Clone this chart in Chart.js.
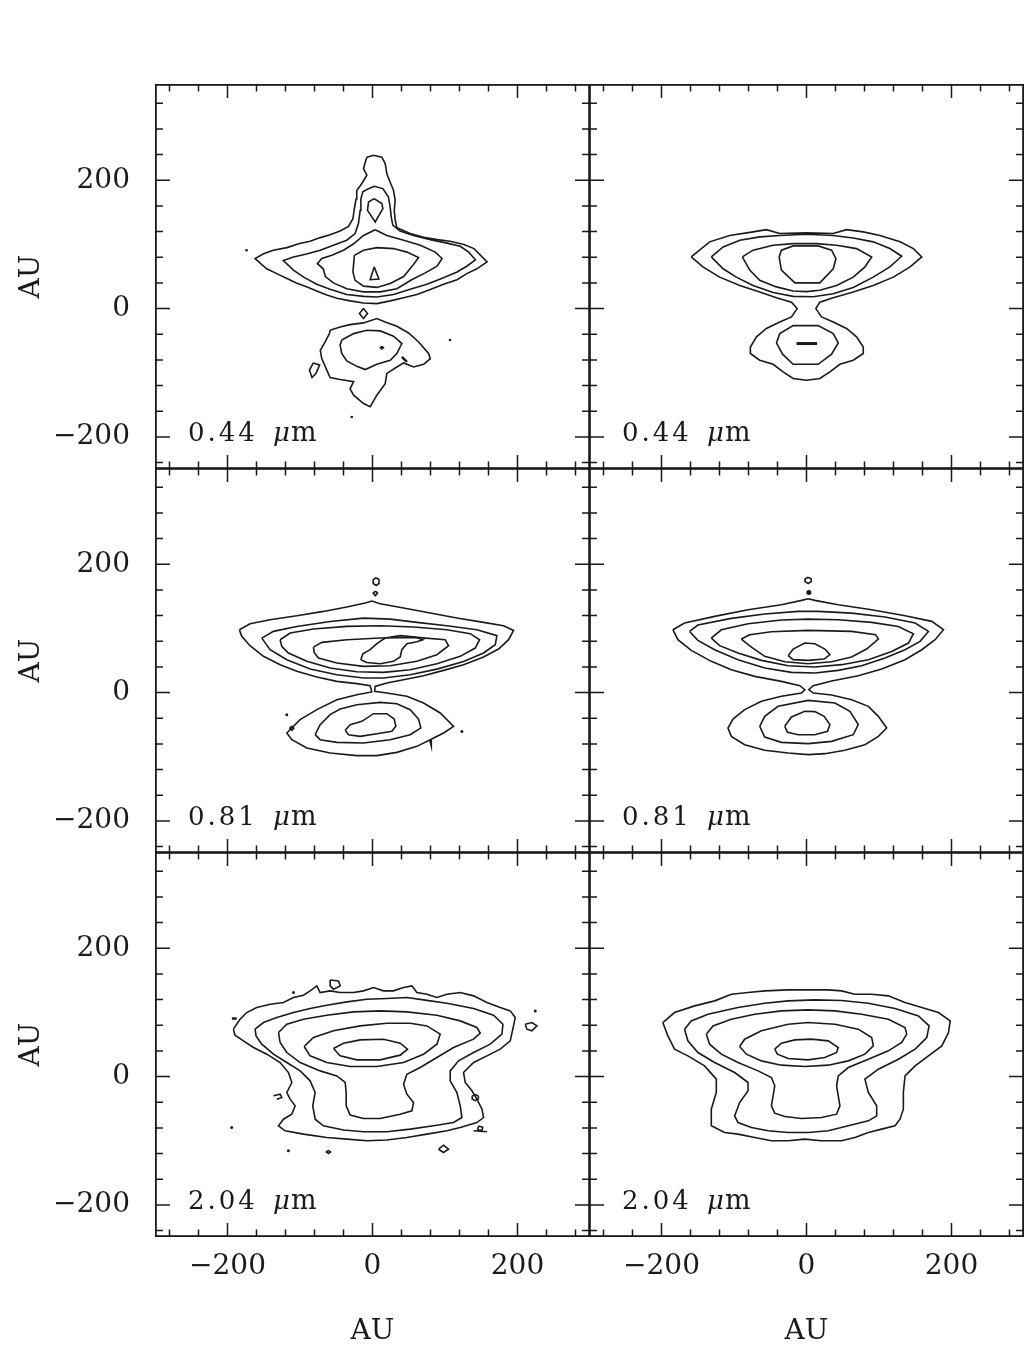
<!DOCTYPE HTML>
<html>
<head>
<meta charset="UTF-8">
<title>Model vs observed contour maps</title>
<script src="https://cdn.jsdelivr.net/npm/chart.js"></script>
<style>
  body { margin: 0; background: #fff; width: 1024px; height: 1346px; overflow: hidden; position: relative; }
  .panel { position: absolute; }
</style>
</head>
<body>
<div class="panel" style="left:0;top:84px;width:590px;height:385px"><canvas id="c0"></canvas></div>
<div class="panel" style="left:589px;top:84px;width:435px;height:385px"><canvas id="c1"></canvas></div>
<div class="panel" style="left:0;top:468px;width:590px;height:385px"><canvas id="c2"></canvas></div>
<div class="panel" style="left:589px;top:468px;width:435px;height:385px"><canvas id="c3"></canvas></div>
<div class="panel" style="left:0;top:852px;width:590px;height:494px"><canvas id="c4"></canvas></div>
<div class="panel" style="left:589px;top:852px;width:435px;height:494px"><canvas id="c5"></canvas></div>
<script>
// axis ticks and panel labels
const majorTicks = [-200, 0, 200];
const minorStep = 40;
const wavelengths = ['0.44', '0.81', '2.04'];

// ---- 0.44 um, observed (top left) ----
const tlOuter = [[-7.8,236],[1.4,239],[12.9,236],[17.5,226],[19.8,210],[24.4,197],[29,184],[31.3,169],[30,153],[31.3,138],[33.6,126],[52,117],[70.5,111],[89,107.5],[107,105],[126,100],[140,93.5],[158,72.7],[144,62],[130,54.5],[116.6,45],[98,38],[79.7,29.6],[61.3,22],[42.9,17],[24.4,12],[6,7.8],[-12.4,8.8],[-31,12],[-49,16],[-63,21],[-77,27.5],[-91,34],[-105,40],[-118,47],[-132,54.5],[-146,62],[-162,78],[-151,85],[-137,91],[-118,95],[-102,101],[-86,105],[-72,110.6],[-58.5,115],[-44.7,121],[-33,128],[-27,140],[-25,156],[-22.6,171],[-21.7,184],[-14.7,195],[-7.8,208],[-12.4,218],[-10,228]];
const tlRing2 = [[-7.8,185.5],[2.3,190.6],[14.3,187],[22,174],[24.4,158],[25.8,143],[28,130],[38,121],[56.7,114],[79.7,107.5],[102.8,102],[121,97],[132.7,88],[142,76],[130,66],[116.6,57],[98,48],[75,38],[52,30],[29,22],[6,18],[-12.4,19],[-35.5,22],[-58.5,30],[-77,38],[-95,49],[-109,60],[-123,75],[-109,80.5],[-91,85],[-72,91],[-54,98.7],[-35.5,106.5],[-24,117],[-19.4,132.5],[-17,153],[-16,171],[-13.4,182]];
const tlStalk = [[2.3,171.4],[12.9,163.6],[14.3,155.8],[3.7,135],[-6.9,153],[-5.5,166]];
const tlRing3 = [[3.7,123],[19.8,114],[43,106.5],[66,98.7],[86.6,88],[96,78],[89,66],[72.8,55.6],[54,45],[33.6,31],[10.6,26],[-12.4,26],[-35.5,31],[-54,40],[-65,50],[-68,62],[-76,70],[-70,78],[-56,83],[-40,91],[-26,101],[-12.4,114]];
const tlCore = [[-25,83],[-12.4,91],[6,95],[29,93.5],[47.5,88],[63.6,79.5],[54,65],[43,50],[24.4,39],[6,33],[-12.4,35],[-24,44],[-27,57],[-26,70]];
const tlPeak = [[2.3,65],[8.8,46],[-3.2,45]];
const tlNeck = [[-12.4,0],[-6.9,-7.8],[-12.4,-15.6],[-18,-7.8]];
const tlLowOuter = [[-58.5,-33.8],[-44.7,-28.6],[-31,-25],[-12.4,-22.3],[6,-15.6],[17.5,-20.8],[33.6,-27.5],[49.8,-38],[63.6,-52],[77.4,-70],[79.7,-78],[70.5,-86.8],[56.7,-91],[42.9,-84.7],[33.6,-91],[19.8,-101],[17.5,-117],[6,-135],[-3.2,-153],[-12.4,-148],[-26,-135],[-31,-125],[-26,-114],[-44.7,-110.6],[-58.5,-107.5],[-63,-96],[-70,-78],[-72,-65],[-65.4,-52],[-59.4,-39]];
const tlLowInner = [[-42.4,-49],[-26,-39],[-7.8,-33.8],[10.6,-34.8],[29,-43],[40.5,-54.5],[33.6,-70],[24.4,-80.5],[6,-86.8],[-10,-95],[-21.7,-90],[-35.5,-81.6],[-42.4,-70],[-44.7,-57]];
const tlLowDot = [[12.9,-58.8],[15,-60.8],[12.9,-62.8],[10.8,-60.8]];
const tlIsland = [[-81.6,-84.7],[-73,-88],[-77.9,-101],[-83.4,-107.5],[-87,-96]];
const tlDash = [[40.5,-75.3],[47.5,-83]];
const tlDots = [[-173.7,91],[107,-49],[-28.6,-169]];

// ---- 0.44 um, model (top right) ----
const trOuter = [[-159,80.5],[-133.6,104],[-106,114],[-73.7,119.5],[-55.3,123],[-36.9,117],[0,118],[36.9,117],[55.3,123],[78.3,119.5],[101.4,114],[129,104],[147.5,93.5],[159,80.5],[142.9,65],[119.8,49],[92,36],[64.5,26],[36.9,17],[18.4,10],[12.9,0],[20.7,-13],[36.9,-20.8],[55.3,-31],[69,-44],[78.3,-60],[78.3,-70],[64.5,-80.5],[46,-86.8],[32.3,-98.7],[18.4,-109],[0,-111.7],[-18.4,-109],[-32.3,-98.7],[-46,-86.8],[-64.5,-80.5],[-77.4,-70],[-77.4,-60],[-69,-44],[-55.3,-31],[-36.9,-20.8],[-20.7,-13],[-12.9,0],[-20.7,10],[-41.5,17],[-64.5,26],[-92,36],[-119.8,49],[-142.9,65]];
const trRing2 = [[-131.3,80.5],[-115,96],[-92,106.5],[-64.5,111.7],[-36.9,114],[0,115.8],[36.9,114],[64.5,110],[92,104],[115,93.5],[131.3,81.6],[115,65],[92,49],[64.5,33],[36.9,23],[9.2,18.5],[-18.4,19],[-46,25],[-73.7,36],[-96.8,49],[-115,62]];
const trRing3 = [[-88.5,80.5],[-73.7,91],[-46,98.7],[-18.4,101.3],[13.8,101.3],[41.5,98.7],[69,93.5],[89.9,80.5],[80.6,65],[64.5,49],[41.5,36],[18.4,28.6],[0,26.5],[-18.4,27.5],[-41.5,33.8],[-64.5,44],[-78.3,60]];
const trCore = [[-37.8,80.5],[-34.6,91],[-18.4,97.7],[16,97.7],[34.6,91],[40.6,78],[36.9,62],[18.4,40],[-16,40],[-34.6,60]];
const trLowInner = [[-41.5,-53.5],[-36.9,-39],[-18.4,-26.5],[16,-26.5],[36.9,-39],[43.8,-53.5],[34.6,-71],[16,-86.8],[-18.4,-86.8],[-33,-71]];
const trBar = [[-13.8,-54.5],[14.7,-54.5]];

// ---- 0.81 um, observed (middle left) ----
const mlOuter = [[-183.6,98],[-168.9,107.3],[-141.2,113.5],[-104.4,119.8],[-67.6,126.5],[-35.4,133.3],[-10.1,139.5],[-0.9,142.6],[10.6,138.5],[42.8,131.8],[79.6,123.9],[116.4,116.2],[153.2,109.4],[180.8,104.2],[194.6,96.9],[187.7,82.4],[173.9,67.9],[153.2,55.4],[125.6,43.5],[98,34.6],[70.4,26.3],[42.8,20.1],[19.8,14.9],[3.7,9.7],[3,2],[19.8,-0.7],[47.4,-5.8],[70.4,-16.2],[93.4,-31.8],[111.8,-52.6],[98,-63],[79.6,-73.4],[61.2,-83.8],[33.6,-93.2],[6,-98.3],[-21.6,-98.3],[-58.4,-94.2],[-90.6,-86.4],[-111.3,-73.4],[-118.2,-63],[-99.8,-42.2],[-76.8,-26.6],[-49.2,-11.1],[-21.6,-3.5],[-1,1],[-3.2,10.8],[-21.6,13.9],[-49.2,17.5],[-76.8,24.2],[-104.4,33.1],[-127.4,43.5],[-150.4,56.5],[-168.9,73.1],[-180.4,87.6]];
const mlRing2 = [[-152.7,84.9],[-136.6,95.4],[-104.4,103.1],[-58.4,110.9],[-12.4,116.1],[24.4,114.5],[61.2,109.4],[102.6,104.2],[144,97.9],[171.6,88.7],[169.3,74.5],[153.2,61.7],[125.6,48.6],[88.8,36.6],[52,27.9],[15.2,22.7],[-12.4,22.7],[-49.2,27.9],[-86,36.6],[-118.2,51.3],[-141.2,66.9]];
const mlRing3 = [[-127.4,82.4],[-113.6,92.8],[-81.4,99],[-35.4,103.2],[10.6,104.2],[56.6,102.1],[102.6,98],[134.8,91.8],[147.7,82.4],[141.7,69.4],[121,56.5],[88.8,45],[52,35.7],[15.2,31.5],[-21.6,32.5],[-58.4,38.3],[-90.6,48.7],[-116,61.7],[-125.2,72]];
const mlCore = [[-81.4,70.9],[-69.9,78.3],[-35.4,82.4],[10.6,85],[61.2,86],[100.3,82.4],[104.9,73],[88.8,59],[61.2,48.7],[24.4,41.9],[-12.4,40.9],[-49.2,46],[-74.5,53.8],[-80.5,62.6]];
const mlPeak = [[-16.1,51.1],[-13.3,60.6],[-3.2,66.9],[6,76.2],[17.5,85],[38.2,88.7],[58.9,86.6],[69.5,82.4],[61.2,79.2],[47.4,76.2],[40.5,66.9],[38.2,55.4],[29,48.7],[10.6,45],[-7.8,47]];
const mlLow2 = [[-79.1,-65.6],[-72.2,-50],[-58.4,-34.4],[-44.6,-25.6],[-21.6,-18.9],[10.6,-15.2],[33.6,-17.3],[52,-26.6],[63.5,-41.2],[66.7,-55.2],[52,-65.6],[24.4,-73.4],[-12.4,-78.6],[-49.2,-77.6],[-72.2,-73.4]];
const mlLow3 = [[-37.7,-58.8],[-30.8,-50],[-14.7,-44.8],[1.4,-32.9],[19.8,-32.9],[29.9,-41.2],[32.2,-52.6],[26.7,-60.4],[6,-64.1],[-17,-68.2],[-33.1,-65.6]];
const mlIsland1 = [[5,179],[9,176],[9,170],[5,167],[1,170],[1,176]];
const mlIsland2 = [[4,158],[7,155],[4,151],[1,155]];
const mlLoop = [[-111.3,-52],[-108.5,-55.4],[-111.3,-58.8],[-114,-55.4]];
const mlDash = [[79.6,-74],[80.5,-78]];
const mlDots = [[-118.2,-34.6],[123.3,-60.6]];

// ---- 0.81 um, model (middle right) ----
const mrOuter = [[-184.3,98],[-168.2,108.4],[-126.7,118.8],[-80.6,129.2],[-34.6,137],[-6.9,143.7],[2.3,146.3],[11.5,143.7],[43.8,137],[89.9,129.2],[135.9,119.8],[172.8,111],[188.9,98],[177.4,82.4],[159,66.8],[135.9,51.3],[103.7,36.6],[71.4,26.3],[34.6,18],[9.2,10.8],[3.2,4.5],[9.2,-0.7],[34.6,-3.8],[62.2,-11.1],[85.3,-21.4],[99.1,-37],[110.6,-55.2],[99.1,-68.2],[80.6,-81.2],[53,-90],[25.3,-95.2],[2.3,-96.7],[-25.3,-94.2],[-57.6,-90],[-85.3,-81.2],[-103.7,-68.2],[-108.3,-55.2],[-101.4,-41.2],[-85.3,-26.6],[-62.2,-13.6],[-34.6,-5.8],[-6.9,-0.7],[-2.3,4.5],[-9.2,10.8],[-34.6,17.5],[-71.4,25.3],[-103.7,35.7],[-131.3,48.7],[-159,65.8],[-177.4,82.4]];
const mrRing2 = [[-161.3,95.3],[-149.8,105.2],[-103.7,115.6],[-57.6,122.4],[-11.5,126.5],[16.1,126.5],[62.2,123.9],[108.3,117.8],[149.8,108.4],[168.2,95.3],[156.7,79.8],[135.9,66.8],[108.3,53.8],[76,41.9],[43.8,34.6],[11.5,30.5],[-20.7,31.5],[-57.6,38.3],[-94.5,51.3],[-126.7,66.8],[-149.8,81.4]];
const mrRing3 = [[-131.3,84.9],[-117.5,97.9],[-80.6,107.4],[-34.6,113],[2.3,114.5],[43.8,113.6],[89.9,109.4],[126.7,103.1],[147.5,91.7],[140.6,77.2],[117.5,64.2],[85.3,51.3],[48.4,43.5],[11.5,39.8],[-25.3,41.9],[-62.2,50.2],[-94.5,61.7],[-119.8,73.1]];
const mrCore = [[-89.9,83.4],[-78.3,90.2],[-48.4,94.9],[2.3,96.9],[62.2,95.4],[95.4,90.2],[99.1,83.4],[82.9,67.9],[62.2,55.4],[34.6,48.1],[2.3,45],[-29.9,48.1],[-57.6,56.5],[-76,70.9]];
const mrPeak = [[-25.3,57.5],[-18.4,67.9],[-2.3,77.2],[11.5,76.2],[25.3,67.9],[32.3,59],[24.4,52.3],[2.3,50.2],[-18.4,51.3]];
const mrLow2 = [[-64.5,-52.6],[-57.6,-37],[-39.2,-21.4],[2.3,-12.1],[39.2,-16.2],[59.9,-29.2],[71.4,-50],[64.5,-65.6],[34.6,-76],[2.3,-79.6],[-34.6,-77.6],[-57.6,-69.3]];
const mrLow3 = [[-30,-52.6],[-20.7,-38],[-2.3,-29.2],[11.5,-29.7],[24.4,-37],[32.3,-50],[29,-60.4],[11.5,-65.6],[-11.5,-65.6],[-26.3,-62]];
const mrIsland = [[2.3,180],[6.5,177],[6.5,173],[2.3,170],[-2,173],[-2,177]];
const mrDots = [[3.2,156]];

// ---- 2.04 um, observed (bottom left) ----
const blOuter = [[-191.9,73.9],[-182.7,89.4],[-173.5,99.8],[-159.7,107.6],[-141.2,112.8],[-122.8,115.4],[-109,123.2],[-95.2,126.9],[-86,133.6],[-76.8,141.4],[-72.2,131],[-58.4,133.6],[-44.6,131],[-26.2,131],[-12.4,133.6],[1.4,138.8],[15.2,133.6],[29,133.6],[42.8,138.8],[54.3,141.4],[61.2,131],[75,128.4],[88.8,123.2],[102.6,128.4],[121,131],[139.4,125.8],[157.8,115.4],[176.2,107.6],[190,102.4],[196.9,92],[193.5,73.9],[190,55.7],[176.2,42.7],[157.8,32.3],[139.4,21.9],[125.6,6.3],[127.9,-9.2],[137.1,-22.2],[144,-35.2],[151,-50.8],[153.2,-63.8],[144,-71.6],[121,-79.4],[102.6,-84.5],[75,-89.7],[47.4,-94.9],[19.8,-98.8],[-7.8,-100.1],[-35.4,-97.5],[-63,-94.9],[-95.2,-89.7],[-120.5,-84.5],[-129.7,-76.7],[-122.8,-66.4],[-111.3,-58.6],[-106.7,-45.6],[-113.6,-35.2],[-118.2,-24.8],[-111.3,-9.2],[-115.9,6.3],[-127.4,21.9],[-145.8,34.9],[-164.2,45.3],[-178,55.7],[-189.6,64.5]];
const blRing2 = [[-162,73.9],[-150.4,84.2],[-132,92],[-109,99.8],[-86,106],[-63,111.3],[-35.4,116.4],[-7.8,120.6],[19.8,121.6],[47.4,123.2],[70.4,119.5],[102.6,114.4],[139.4,106],[167,95.7],[179.9,81.6],[178.5,66.1],[162.4,50.5],[139.4,37.5],[118.7,24.5],[107.2,8.9],[107.2,-6.6],[116.4,-24.8],[121,-45.6],[123.3,-63.8],[111.8,-71.6],[84.2,-76.7],[52,-81.9],[19.8,-86],[-12.4,-86],[-40,-83.2],[-67.6,-76.7],[-79.1,-66.4],[-82.4,-45.6],[-79.1,-24.8],[-86,-6.6],[-99.8,8.9],[-118.2,21.9],[-136.6,34.9],[-152.7,50.5],[-160.6,63.5]];
const blRing3 = [[-129.7,68.7],[-118.2,81.6],[-95.2,89.4],[-63,95.7],[-26.2,100.9],[10.6,102.4],[47.4,100.9],[88.8,95.7],[121,86.8],[144,76.5],[148.6,67.6],[139.4,58.3],[111.8,45.3],[88.8,29.7],[65.8,14.1],[47.4,3.7],[42.8,-11.8],[47.4,-27.4],[56.6,-40.4],[54.3,-53.4],[38.2,-58.6],[10.6,-65.3],[-12.4,-65.3],[-30.8,-60.1],[-36.3,-45.6],[-36.3,-24.8],[-37.7,-9.2],[-49.2,1.1],[-72.2,8.9],[-99.8,21.9],[-118.2,37.5],[-127.4,53.1]];
const blRing4 = [[-94.3,46.9],[-81.4,60.9],[-53.8,71.3],[-17,79],[19.8,83.2],[52,83.2],[75,79],[93.4,66.1],[88.8,50.5],[70.4,34.9],[42.8,21.9],[6,15.6],[-30.8,15.6],[-63,21.9],[-86,32.3]];
const blCore = [[-53.8,43.7],[-40,52],[-17,57.2],[15.2,58.2],[38.2,52],[48.3,42.7],[38.2,33.4],[10.6,26.1],[-21.6,26.1],[-44.6,32.3]];
const blBlob = [[-58.4,150.5],[-46.9,149],[-44.6,141.4],[-53.8,136.2],[-58.4,141.4]];
const blDiamond = [[210.7,81.6],[219.9,84.2],[226.8,79],[219.9,71.3],[213,73.9]];
const blCurl = [[-136.6,-30],[-127.4,-27.4],[-125.1,-32.6],[-132,-35.2]];
const blRing = [[141.7,-28],[146,-30.5],[146,-35],[141.7,-37.5],[137.5,-35],[137.5,-30.5]];
const blLoop = [[146.3,-77],[152,-79],[151,-84],[145,-83]];
const blOval = [[-60.8,-115],[-58,-117.4],[-60.8,-119.8],[-63.6,-117.4]];
const blDiamond2 = [[91.1,-113.2],[98,-107],[104.9,-113.2],[98,-118.3]];
const blDash = [[-194,90.5],[-187.3,90.5]];
const blDash2 = [[139.4,-84.5],[157.8,-86]];
const blDots = [[-109,131],[224.5,102.4],[-194.2,-79.4],[-116,-115.7]];

// ---- 2.04 um, model (bottom right) ----
const brOuter = [[-198.2,84.2],[-182,99.8],[-154.4,110.2],[-126.7,118],[-103.7,128.4],[-80.6,131],[-57.6,133.6],[-25.3,135.2],[-2.3,135.2],[30,135.2],[48.4,133.6],[66.8,128.4],[89.9,128.4],[112.9,125.8],[135.9,115.4],[159,107.6],[182,99.8],[198.2,86.8],[195.9,68.7],[186.6,47.9],[168.2,32.3],[149.8,16.7],[135.9,1.1],[133.6,-24.8],[133.6,-50.8],[129,-66.4],[122.1,-76.7],[103.7,-81.9],[85.3,-87.1],[66.8,-94.9],[48.4,-100.1],[20.7,-100.1],[-2.3,-97.5],[-25.3,-100.1],[-48.4,-100.1],[-71.4,-94.9],[-94.5,-89.7],[-112.9,-87.1],[-131.3,-76.7],[-131.3,-50.8],[-124.4,-24.8],[-124.4,-4],[-140.6,16.7],[-163.6,32.3],[-182,42.7],[-191.2,63.5]];
const brRing2 = [[-168.2,73.9],[-159,86.8],[-135.9,97.2],[-94.5,107.6],[-57.6,114.4],[-25.3,118],[11.5,119.6],[48.4,118.5],[85.3,114.4],[122.1,106],[154.4,94.6],[169.1,79],[165.9,60.9],[149.8,42.7],[126.7,27.1],[99.1,11.5],[80.6,-4],[85.3,-24.8],[96.8,-45.6],[96.8,-61.2],[85.3,-69],[57.6,-76.7],[30,-84.5],[2.3,-87.1],[-25.3,-87.1],[-53,-84.5],[-76,-79.3],[-94.5,-71.6],[-99.1,-61.2],[-92.2,-40.4],[-80.6,-22.2],[-80.6,-9.2],[-99.1,6.3],[-126.7,21.9],[-149.8,37.5],[-163.6,55.7]];
const brRing3 = [[-138.2,66.1],[-129,79],[-103.7,89.4],[-71.4,97.2],[-34.6,102.4],[2.3,104],[39.2,102.4],[76,97.2],[112.9,89.4],[135.9,76.5],[138.2,66.1],[131.3,53.1],[112.9,40.1],[85.3,27.1],[57.6,14.1],[43.8,1.1],[41.5,-14.4],[43.8,-30],[46.1,-45.6],[41.5,-58.6],[20.7,-63.8],[-6.9,-65.4],[-30,-62.2],[-43.8,-57],[-48.4,-45.6],[-46.1,-30],[-43.8,-14.4],[-48.4,-1.5],[-66.8,8.9],[-94.5,21.9],[-117.5,34.9],[-133.6,50.5]];
const brRing4 = [[-92.2,46.9],[-85.3,58.3],[-62.2,71.3],[-25.3,81.6],[2.3,84.2],[39.2,81.6],[71.4,73.9],[89.9,60.9],[92.2,47.9],[80.6,34.9],[57.6,24.5],[30,17.8],[-2.3,15.7],[-34.6,17.8],[-62.2,24.5],[-82.9,34.9]];
const brCore = [[-43.8,42.7],[-34.6,52],[-16.1,57.2],[6.9,58.3],[30,55.7],[43.8,45.3],[41.5,37.5],[25.3,29.7],[2.3,26.1],[-25.3,28.2],[-40.1,34.9]];

const ink = '#1a1a1a';
Chart.defaults.font.family = '"DejaVu Serif", serif';
Chart.defaults.color = ink;

function toXY(pts) { return pts.map(p => ({ x: p[0], y: p[1] })); }
function ring(pts) {
  const d = toXY(pts);
  d.push(d[0]);
  return { data: d, showLine: true, borderColor: ink, borderWidth: 1.6, pointRadius: 0, fill: false, tension: 0 };
}
function stroke(pts, w) {
  return { data: toXY(pts), showLine: true, borderColor: ink, borderWidth: w, pointRadius: 0, fill: false };
}
function dots(pts, r) {
  return { data: toXY(pts), showLine: false, pointRadius: r, backgroundColor: ink, borderWidth: 0 };
}
const minus = v => String(v).replace('-', '\u2212');

// frame, inward ticks on all four sides and the wavelength label
const pgFrame = {
  id: 'pgFrame',
  afterDatasetsDraw(chart, args, opts) {
    const { ctx, chartArea: a } = chart;
    const xs = chart.scales.x, ys = chart.scales.y;
    ctx.save();
    ctx.strokeStyle = ink;
    ctx.lineWidth = 1.8;
    ctx.strokeRect(a.left + 0.9, a.top + 0.9, a.right - a.left - 1.8, a.bottom - a.top - 1.8);
    ctx.lineWidth = 1.5;
    ctx.beginPath();
    for (let v = -280; v <= 280; v += minorStep) {
      const px = xs.getPixelForValue(v);
      const len = majorTicks.includes(v) ? 14 : 7.5;
      ctx.moveTo(px, a.top); ctx.lineTo(px, a.top + len);
      ctx.moveTo(px, a.bottom); ctx.lineTo(px, a.bottom - len);
    }
    for (let v = -240; v <= 320; v += minorStep) {
      const py = ys.getPixelForValue(v);
      const len = majorTicks.includes(v) ? 15 : 8;
      ctx.moveTo(a.left, py); ctx.lineTo(a.left + len, py);
      ctx.moveTo(a.right, py); ctx.lineTo(a.right - len, py);
    }
    ctx.stroke();

    const base = a.bottom - 28;
    ctx.fillStyle = ink;
    ctx.textAlign = 'left';
    ctx.textBaseline = 'alphabetic';
    ctx.font = '26px "DejaVu Serif"';
    ctx.letterSpacing = '3px';
    ctx.fillText(opts.label, a.left + 33, base);
    ctx.letterSpacing = '0px';
    ctx.font = 'italic 26px "DejaVu Serif"';
    ctx.fillText('\u03bc', a.left + 118, base);
    const mu = ctx.measureText('\u03bc').width;
    ctx.font = '27px "DejaVu Serif"';
    ctx.fillText('m', a.left + 119 + mu, base);
    ctx.restore();
  }
};

function xAxis(show) {
  if (!show) return { type: 'linear', min: -300, max: 300, display: false };
  return {
    type: 'linear', min: -300, max: 300, position: 'bottom',
    afterBuildTicks: s => { s.ticks = majorTicks.map(v => ({ value: v })); },
    afterFit: s => { s.height = 109; s.paddingLeft = 0; s.paddingRight = 0; },
    grid: { display: false, drawTicks: true, tickLength: 13 },
    border: { display: false },
    ticks: { padding: 0, maxRotation: 0, autoSkip: false, font: { size: 28 }, color: ink, callback: v => minus(v) },
    title: { display: true, text: 'AU', font: { size: 28 }, color: ink, padding: { top: 0, bottom: -3 } }
  };
}
function yAxis(show) {
  if (!show) return { type: 'linear', min: -250, max: 350, display: false };
  return {
    type: 'linear', min: -250, max: 350, position: 'left',
    afterBuildTicks: s => { s.ticks = majorTicks.map(v => ({ value: v })); },
    afterFit: s => { s.width = 155; s.paddingTop = 0; s.paddingBottom = 0; },
    grid: { display: false, drawTicks: true, tickLength: 25 },
    border: { display: false },
    ticks: { padding: 0, font: { size: 28 }, color: ink, callback: v => minus(v) },
    title: { display: true, text: 'AU', font: { size: 28 }, color: ink, padding: { top: 15, bottom: 0 } }
  };
}

const panels = [
  { id: 'c0', label: wavelengths[0], left: true, bottom: false,
    sets: [ring(tlOuter), ring(tlRing2), ring(tlStalk), ring(tlRing3), ring(tlCore), ring(tlPeak), ring(tlNeck),
           ring(tlLowOuter), ring(tlLowInner), ring(tlLowDot), ring(tlIsland), stroke(tlDash, 2.5), dots(tlDots, 1.3)] },
  { id: 'c1', label: wavelengths[0], left: false, bottom: false,
    sets: [ring(trOuter), ring(trRing2), ring(trRing3), ring(trCore), ring(trLowInner), stroke(trBar, 3)] },
  { id: 'c2', label: wavelengths[1], left: true, bottom: false,
    sets: [ring(mlOuter), ring(mlRing2), ring(mlRing3), ring(mlCore), ring(mlPeak), ring(mlLow2), ring(mlLow3),
           ring(mlIsland1), ring(mlIsland2), ring(mlLoop), stroke(mlDash, 2.5), dots(mlDots, 1.5)] },
  { id: 'c3', label: wavelengths[1], left: false, bottom: false,
    sets: [ring(mrOuter), ring(mrRing2), ring(mrRing3), ring(mrCore), ring(mrPeak), ring(mrLow2), ring(mrLow3),
           ring(mrIsland), dots(mrDots, 2.5)] },
  { id: 'c4', label: wavelengths[2], left: true, bottom: true,
    sets: [ring(blOuter), ring(blRing2), ring(blRing3), ring(blRing4), ring(blCore), ring(blBlob), ring(blDiamond),
           stroke(blCurl, 1.5), ring(blRing), ring(blLoop), ring(blOval), ring(blDiamond2), stroke(blDash, 2.5),
           stroke(blDash2, 1.5), dots(blDots, 1.5)] },
  { id: 'c5', label: wavelengths[2], left: false, bottom: true,
    sets: [ring(brOuter), ring(brRing2), ring(brRing3), ring(brRing4), ring(brCore)] }
];

panels.forEach(p => {
  new Chart(document.getElementById(p.id), {
    type: 'scatter',
    data: { datasets: p.sets },
    options: {
      responsive: true,
      maintainAspectRatio: false,
      animation: false,
      devicePixelRatio: 1,
      events: [],
      layout: { padding: 0, autoPadding: false },
      scales: { x: xAxis(p.bottom), y: yAxis(p.left) },
      plugins: { legend: { display: false }, tooltip: { enabled: false }, pgFrame: { label: p.label } }
    },
    plugins: [pgFrame]
  });
});
</script>
</body>
</html>
